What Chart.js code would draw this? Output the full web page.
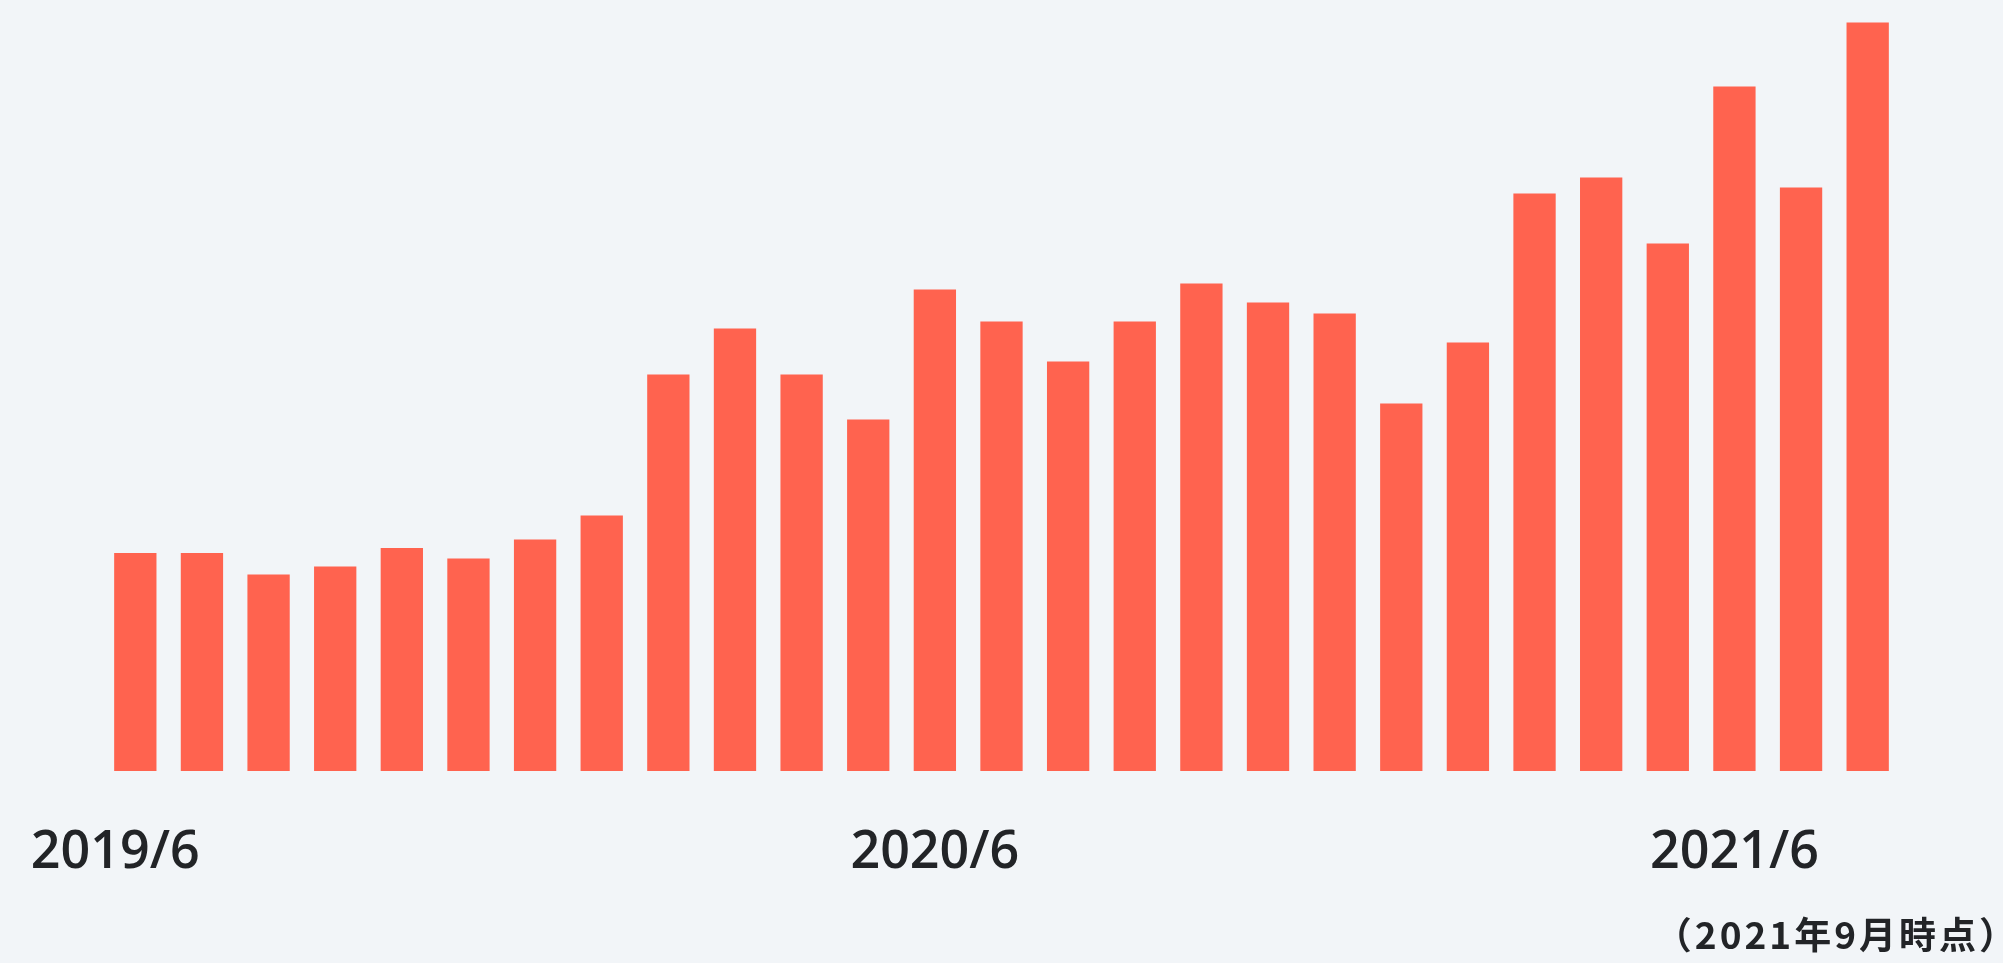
<!DOCTYPE html>
<html>
<head>
<meta charset="utf-8">
<script src="https://cdn.jsdelivr.net/npm/chart.js@4.4.1/dist/chart.umd.min.js"></script>
<style>
  html, body { margin: 0; padding: 0; background: #f2f5f8; overflow: hidden; }
  #wrap { width: 2003px; height: 963px; position: relative; }
</style>
</head>
<body>
<div id="wrap"><canvas id="myChart"></canvas></div>
<script>
// monthly values, 2019/6 .. 2021/8 (arbitrary units)
const months = [
  '2019/6', '2019/7', '2019/8', '2019/9', '2019/10', '2019/11', '2019/12',
  '2020/1', '2020/2', '2020/3', '2020/4', '2020/5', '2020/6', '2020/7',
  '2020/8', '2020/9', '2020/10', '2020/11', '2020/12', '2021/1', '2021/2',
  '2021/3', '2021/4', '2021/5', '2021/6', '2021/7', '2021/8'
]
const counts = [
  43.6, 43.6, 39.3, 40.9, 44.6, 42.5, 46.3,
  51.1, 79.3, 88.5, 79.3, 70.3, 96.3, 89.9,
  81.9, 89.9, 97.5, 93.7, 91.5, 73.5, 85.7,
  115.5, 118.7, 105.5, 136.9, 116.7, 149.7
]
const shownTicks = ['2019/6', '2020/6', '2021/6']
const noteText = '（2021年9月時点）'

const barColor = '#ff634f'
const textColor = '#222427'

// draws the sparse month labels under the bars and the "as of" note
const labelPlugin = {
  id: 'labelPlugin',
  afterDraw(chart) {
    const ctx = chart.ctx
    const xScale = chart.scales.x
    const bottom = chart.chartArea.bottom
    ctx.save()
    ctx.fillStyle = textColor
    ctx.font = '600 52px "Open Sans", "Noto Sans", sans-serif'
    ctx.textAlign = 'center'
    ctx.textBaseline = 'alphabetic'
    shownTicks.forEach(function (label, i) {
      let x = xScale.getPixelForValue(months.indexOf(label))
      if (i === 0) x -= 20
      ctx.fillText(label, x, bottom + 97)
    })
    ctx.font = 'bold 37px "Noto Sans CJK JP", sans-serif'
    ctx.textAlign = 'right'
    if ('letterSpacing' in ctx) ctx.letterSpacing = '3px'
    ctx.fillText(noteText, chart.width + 16, chart.height - 14)
    ctx.restore()
  }
}

let ctx = document.getElementById('myChart').getContext('2d')
new Chart(ctx, {
  type: 'bar',
  data: {
    labels: months,
    datasets: [{
      data: counts,
      backgroundColor: barColor,
      borderWidth: 0,
      categoryPercentage: 1,
      barPercentage: 0.635
    }]
  },
  options: {
    responsive: true,
    maintainAspectRatio: false,
    animation: false,
    layout: {
      padding: { left: 102, right: 102, top: 21, bottom: 192 }
    },
    plugins: {
      legend: { display: false },
      tooltip: { enabled: false }
    },
    scales: {
      x: { display: false },
      y: { display: false, min: 0, max: 150 }
    }
  },
  plugins: [labelPlugin]
})
</script>
</body>
</html>
